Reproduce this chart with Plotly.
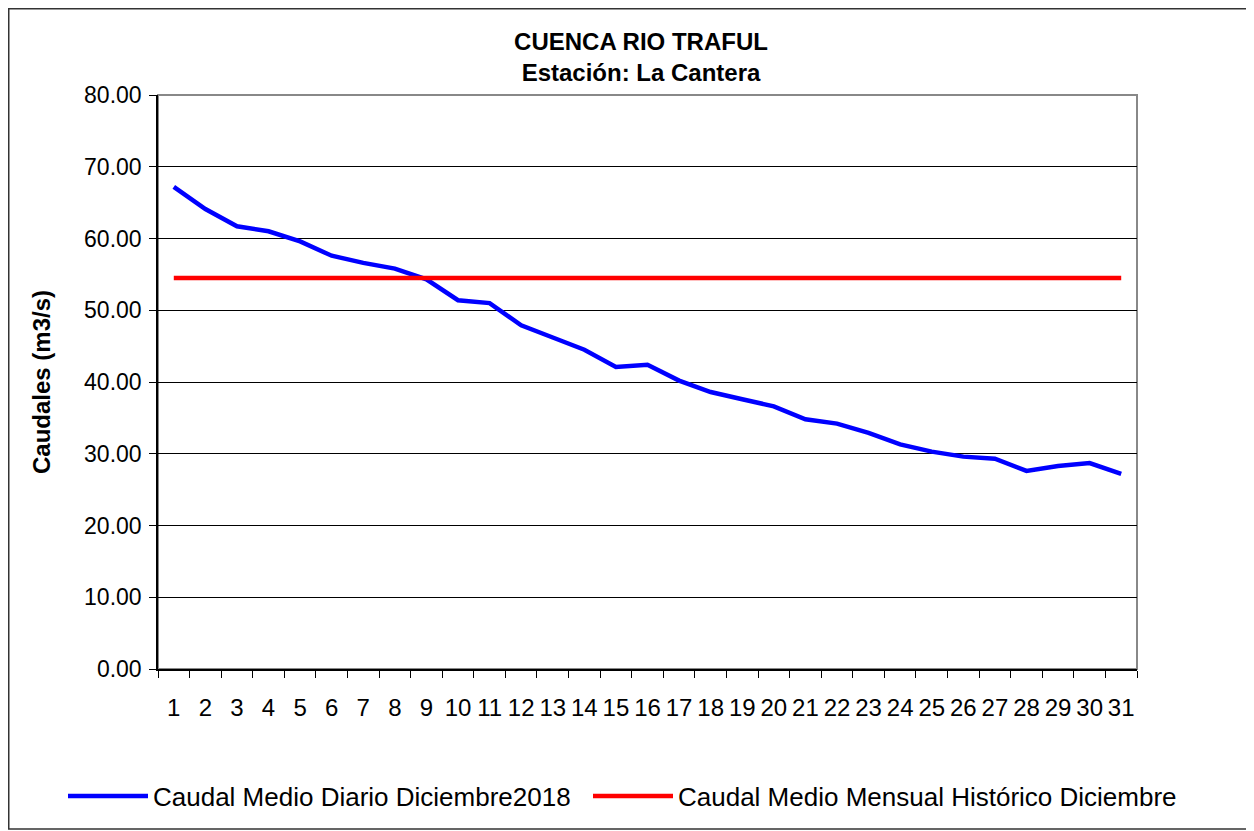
import plotly.graph_objects as go

# Datos
dias = [str(d) for d in range(1, 32)]
caudal_diario = [67.2, 64.1, 61.7, 61.0, 59.6, 57.6, 56.6, 55.8, 54.3, 51.4,
                 51.0, 47.9, 46.2, 44.5, 42.1, 42.4, 40.2, 38.6, 37.6, 36.6,
                 34.8, 34.2, 32.9, 31.3, 30.3, 29.6, 29.3, 27.6, 28.3, 28.7, 27.2]
caudal_historico = [54.5] * 31
ticks_y = [0, 10, 20, 30, 40, 50, 60, 70, 80]

FONT = "Arial, Liberation Sans, sans-serif"
W, H = 1254, 831
L, R, T, B = 150, 125, 87, 170
pw, ph = W - L - R, H - T - B


def px_x(x):
    return (x - L) / pw


def px_y(y):
    return (H - B - y) / ph


fig = go.Figure()

fig.add_trace(go.Scatter(
    x=dias, y=caudal_diario, mode='lines',
    name='Caudal Medio Diario Diciembre2018',
    line=dict(color='#0000ff', width=4.5),
    legendwidth=430
))
fig.add_trace(go.Scatter(
    x=dias, y=caudal_historico, mode='lines',
    name='Caudal Medio Mensual Histórico Diciembre',
    line=dict(color='#ff0000', width=4.5),
    legendwidth=510
))

# borde exterior del gráfico
fig.add_shape(type='rect', xref='paper', yref='paper', layer='below',
              x0=px_x(0.75), x1=px_x(1243), y0=px_y(821), y1=px_y(0.75),
              line=dict(color='#333333', width=1.5))
# borde del área de trazado (gris)
fig.add_shape(type='rect', xref='paper', yref='paper', layer='below',
              x0=0, x1=1, y0=0, y1=1,
              line=dict(color='#888888', width=2))

fig.update_layout(
    width=W, height=H,
    margin=dict(l=L, r=R, t=T, b=B),
    paper_bgcolor='white', plot_bgcolor='white',
    font=dict(family=FONT, color='black'),
    title=dict(
        text='<b>CUENCA RIO TRAFUL<br>Estación: La Cantera</b>',
        x=633 / W, xanchor='center',
        y=1 - 42 / H, yanchor='top',
        font=dict(size=24, family=FONT)
    ),
    showlegend=True,
    legend=dict(
        orientation='h', x=px_x(55), xanchor='left',
        y=px_y(788), yanchor='middle',
        font=dict(size=26, family=FONT),
        itemwidth=80, traceorder='normal'
    ),
    xaxis=dict(
        type='category', tickson='boundaries', tickangle=0,
        tickmode='array', tickvals=dias, ticktext=dias,
        ticks='outside', ticklen=7, tickcolor='black',
        showline=True, linecolor='black', linewidth=1.5,
        showgrid=False, tickfont=dict(size=24, family=FONT),
        ticklabelstandoff=16,
        range=[-0.5, 30.5], automargin=False
    ),
    yaxis=dict(
        range=[0, 80], tickvals=ticks_y,
        ticktext=[f'{v:.2f}' for v in ticks_y],
        ticks='outside', ticklen=7, tickcolor='black',
        showline=True, linecolor='black', linewidth=1.5,
        showgrid=True, gridcolor='black', gridwidth=1,
        tickfont=dict(size=23, family=FONT), ticklabelstandoff=3,
        title=dict(text='<b>Caudales (m3/s)</b>', font=dict(size=24, family=FONT), standoff=27),
        zeroline=False, automargin=False
    )
)

fig.write_html("out.html")
